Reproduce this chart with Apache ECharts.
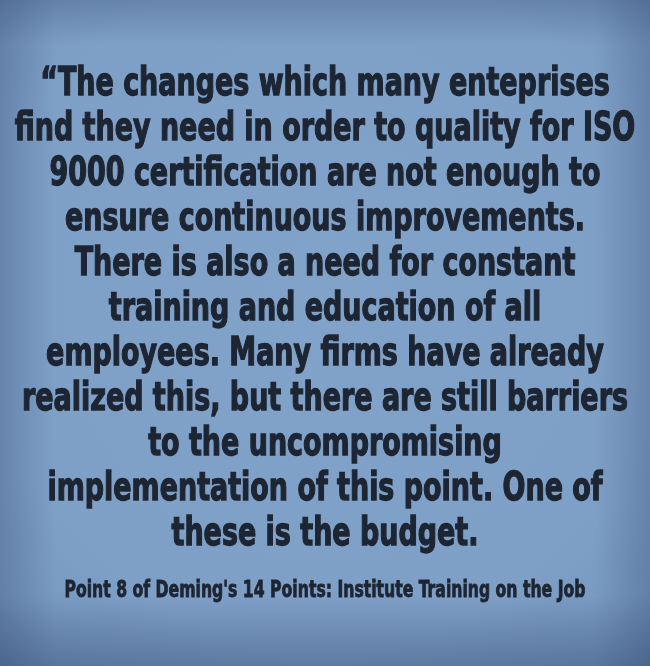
<!DOCTYPE html>
<html><head><meta charset="utf-8">
<script src="https://cdn.jsdelivr.net/npm/echarts@6/dist/echarts.min.js"></script>
<style>html,body{margin:0;padding:0;background:#7f9fc6}#c{width:650px;height:666px}</style>
</head><body><div id="c"></div>
<script>
var quoteLines = [
  "\u201CThe changes which many enteprises",
  "find they need in order to quality for ISO",
  "9000 certification are not enough to",
  "ensure continuous improvements.",
  "There is also a need for constant",
  "training and education of all",
  "employees. Many firms have already",
  "realized this, but there are still barriers",
  "to the uncompromising",
  "implementation of this point. One of",
  "these is the budget."
];
var footerText = "Point 8 of Deming's 14 Points: Institute Training on the Job";

var FAMILY = "'DejaVu Sans Condensed','Liberation Sans Narrow','DejaVu Sans',sans-serif";
var W = 650, H = 666, CX = 325;
var mainSize = 39, footSize = 23;
var mainFont = "bold " + mainSize + "px " + FAMILY;
var footFont = "bold " + footSize + "px " + FAMILY;

var ctx = document.createElement('canvas').getContext('2d');
function measure(font, t){ ctx.font = font; return ctx.measureText(t).width; }
var mainScale = 606 / measure(mainFont, quoteLines[7]);
var footScale = 521 / measure(footFont, footerText);

var firstTop = 65, lineStep = 45, footTop = 580;
var textColor = '#1d2533';
var shadow = 'rgba(235,242,250,0.85)';

var elements = [];
function edge(x, y, w, h, gx, gy, gx2, gy2, a){
  elements.push({type:'rect', silent:true, shape:{x:x,y:y,width:w,height:h},
    style:{fill:{type:'linear',x:gx,y:gy,x2:gx2,y2:gy2,colorStops:[
      {offset:0,color:'rgba(40,62,100,'+a+')'},{offset:1,color:'rgba(40,62,100,0)'}]}}});
}
edge(0,0,W,45, 0,0,0,1, 0.26);
edge(0,H-70,W,70, 0,1,0,0, 0.36);
edge(0,0,55,H, 0,0,1,0, 0.26);
edge(W-55,0,55,H, 1,0,0,0, 0.26);

quoteLines.forEach(function(t, i){
  elements.push({type:'text', x:CX, y:firstTop + i*lineStep, scaleX:mainScale, scaleY:1,
    style:{text:t, font:mainFont, fill:textColor, stroke:textColor, lineWidth:1.3, textAlign:'center', verticalAlign:'top',
      shadowColor:shadow, shadowOffsetX:1.2, shadowOffsetY:1.5, shadowBlur:0}});
});
elements.push({type:'text', x:CX, y:footTop, scaleX:footScale, scaleY:1,
  style:{text:footerText, font:footFont, fill:textColor, stroke:textColor, lineWidth:0.8, textAlign:'center', verticalAlign:'top',
    shadowColor:shadow, shadowOffsetX:1, shadowOffsetY:1, shadowBlur:0}});

var chart = echarts.init(document.getElementById('c'), null, {renderer:'canvas'});
chart.setOption({
  backgroundColor:{type:'radial', x:0.5, y:0.45, r:0.75, colorStops:[
    {offset:0,color:'#81a2c9'},{offset:0.7,color:'#7e9fc6'},{offset:1,color:'#7192ba'}]},
  animation:false,
  graphic:{elements:elements}
});
</script></body></html>
